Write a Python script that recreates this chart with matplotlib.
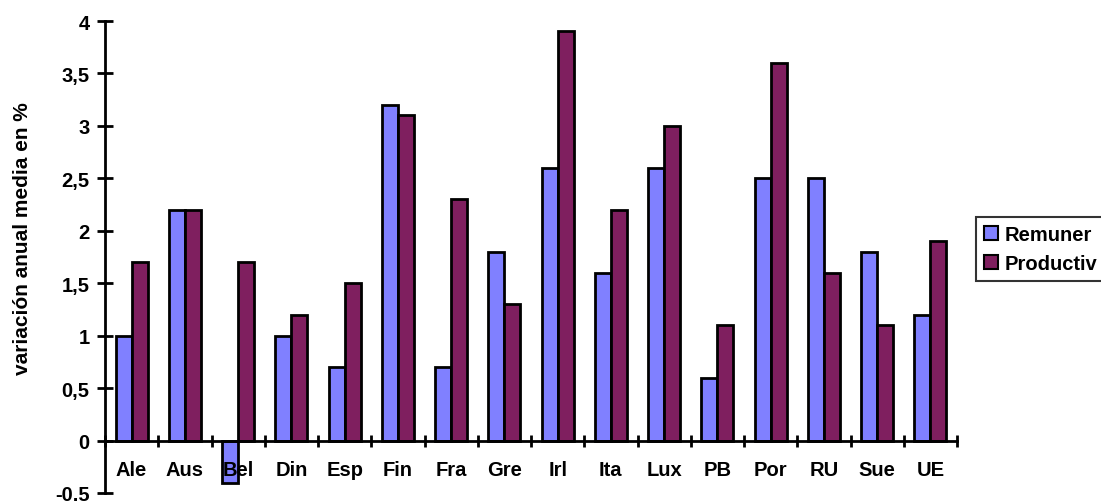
import numpy as np
import matplotlib.pyplot as plt
from matplotlib.ticker import FixedLocator

plt.rcParams['font.family'] = ['Liberation Sans', 'DejaVu Sans']
plt.rcParams['font.weight'] = 'bold'

# data
paises = ["Ale", "Aus", "Bel", "Din", "Esp", "Fin", "Fra", "Gre",
          "Irl", "Ita", "Lux", "PB", "Por", "RU", "Sue", "UE"]
remuner = [1.0, 2.2, -0.4, 1.0, 0.7, 3.2, 0.7, 1.8, 2.6, 1.6, 2.6, 0.6, 2.5, 2.5, 1.8, 1.2]
productiv = [1.7, 2.2, 1.7, 1.2, 1.5, 3.1, 2.3, 1.3, 3.9, 2.2, 3.0, 1.1, 3.6, 1.6, 1.1, 1.9]
y_ticks = [-0.5, 0, 0.5, 1, 1.5, 2, 2.5, 3, 3.5, 4]

fs = 14.5
fig = plt.figure(figsize=(11.01, 5.02), dpi=100)
ax = fig.add_axes([105/1101, 8/502, (957-105)/1101, 472/502])

x = np.arange(len(paises))
w = 0.3
ax.bar(x - w/2, remuner, w, color='#8080FF', edgecolor='black', linewidth=2, label='Remuner')
ax.bar(x + w/2, productiv, w, color='#7F1F5F', edgecolor='black', linewidth=2, label='Productiv')

ax.set_xlim(-0.5, len(paises) - 0.5)
ax.set_ylim(-0.5, 4)

for s in ['top', 'right']:
    ax.spines[s].set_visible(False)
ax.spines['bottom'].set_position(('data', 0))
ax.spines['bottom'].set_linewidth(2)
ax.spines['left'].set_linewidth(2)

# x: boundary ticks, labels centred below
ax.xaxis.set_major_locator(FixedLocator(np.arange(len(paises) + 1) - 0.5))
ax.xaxis.set_minor_locator(FixedLocator(x))
ax.set_xticklabels([], minor=False)
ax.set_xticklabels(paises, minor=True, fontsize=fs, fontweight='bold')
ax.tick_params(axis='x', which='major', direction='inout', length=9, width=2)
ax.tick_params(axis='x', which='minor', length=0, pad=14)

ax.set_yticks(y_ticks)
ax.set_yticklabels([('%g' % v).replace('.', ',') for v in y_ticks], fontsize=fs, fontweight='bold')
ax.tick_params(axis='y', direction='inout', length=12, width=2, pad=5)

ax.set_ylabel("variación anual media en %", fontsize=15, fontweight='bold')
ax.yaxis.set_label_coords(-0.0857, 0.542)

leg = fig.legend(loc='upper left', bbox_to_anchor=(976/1101, 1 - 218/502),
                 fontsize=fs, frameon=True, fancybox=False, edgecolor='black',
                 handlelength=0.7, handleheight=0.7, handletextpad=0.3,
                 borderpad=0.4, labelspacing=0.5, borderaxespad=0)
leg.get_frame().set_linewidth(1.5)
for t in leg.get_texts():
    t.set_fontweight('bold')
for h in leg.legend_handles:
    h.set_linewidth(1.5)

fig.savefig("out.png", dpi=100)
